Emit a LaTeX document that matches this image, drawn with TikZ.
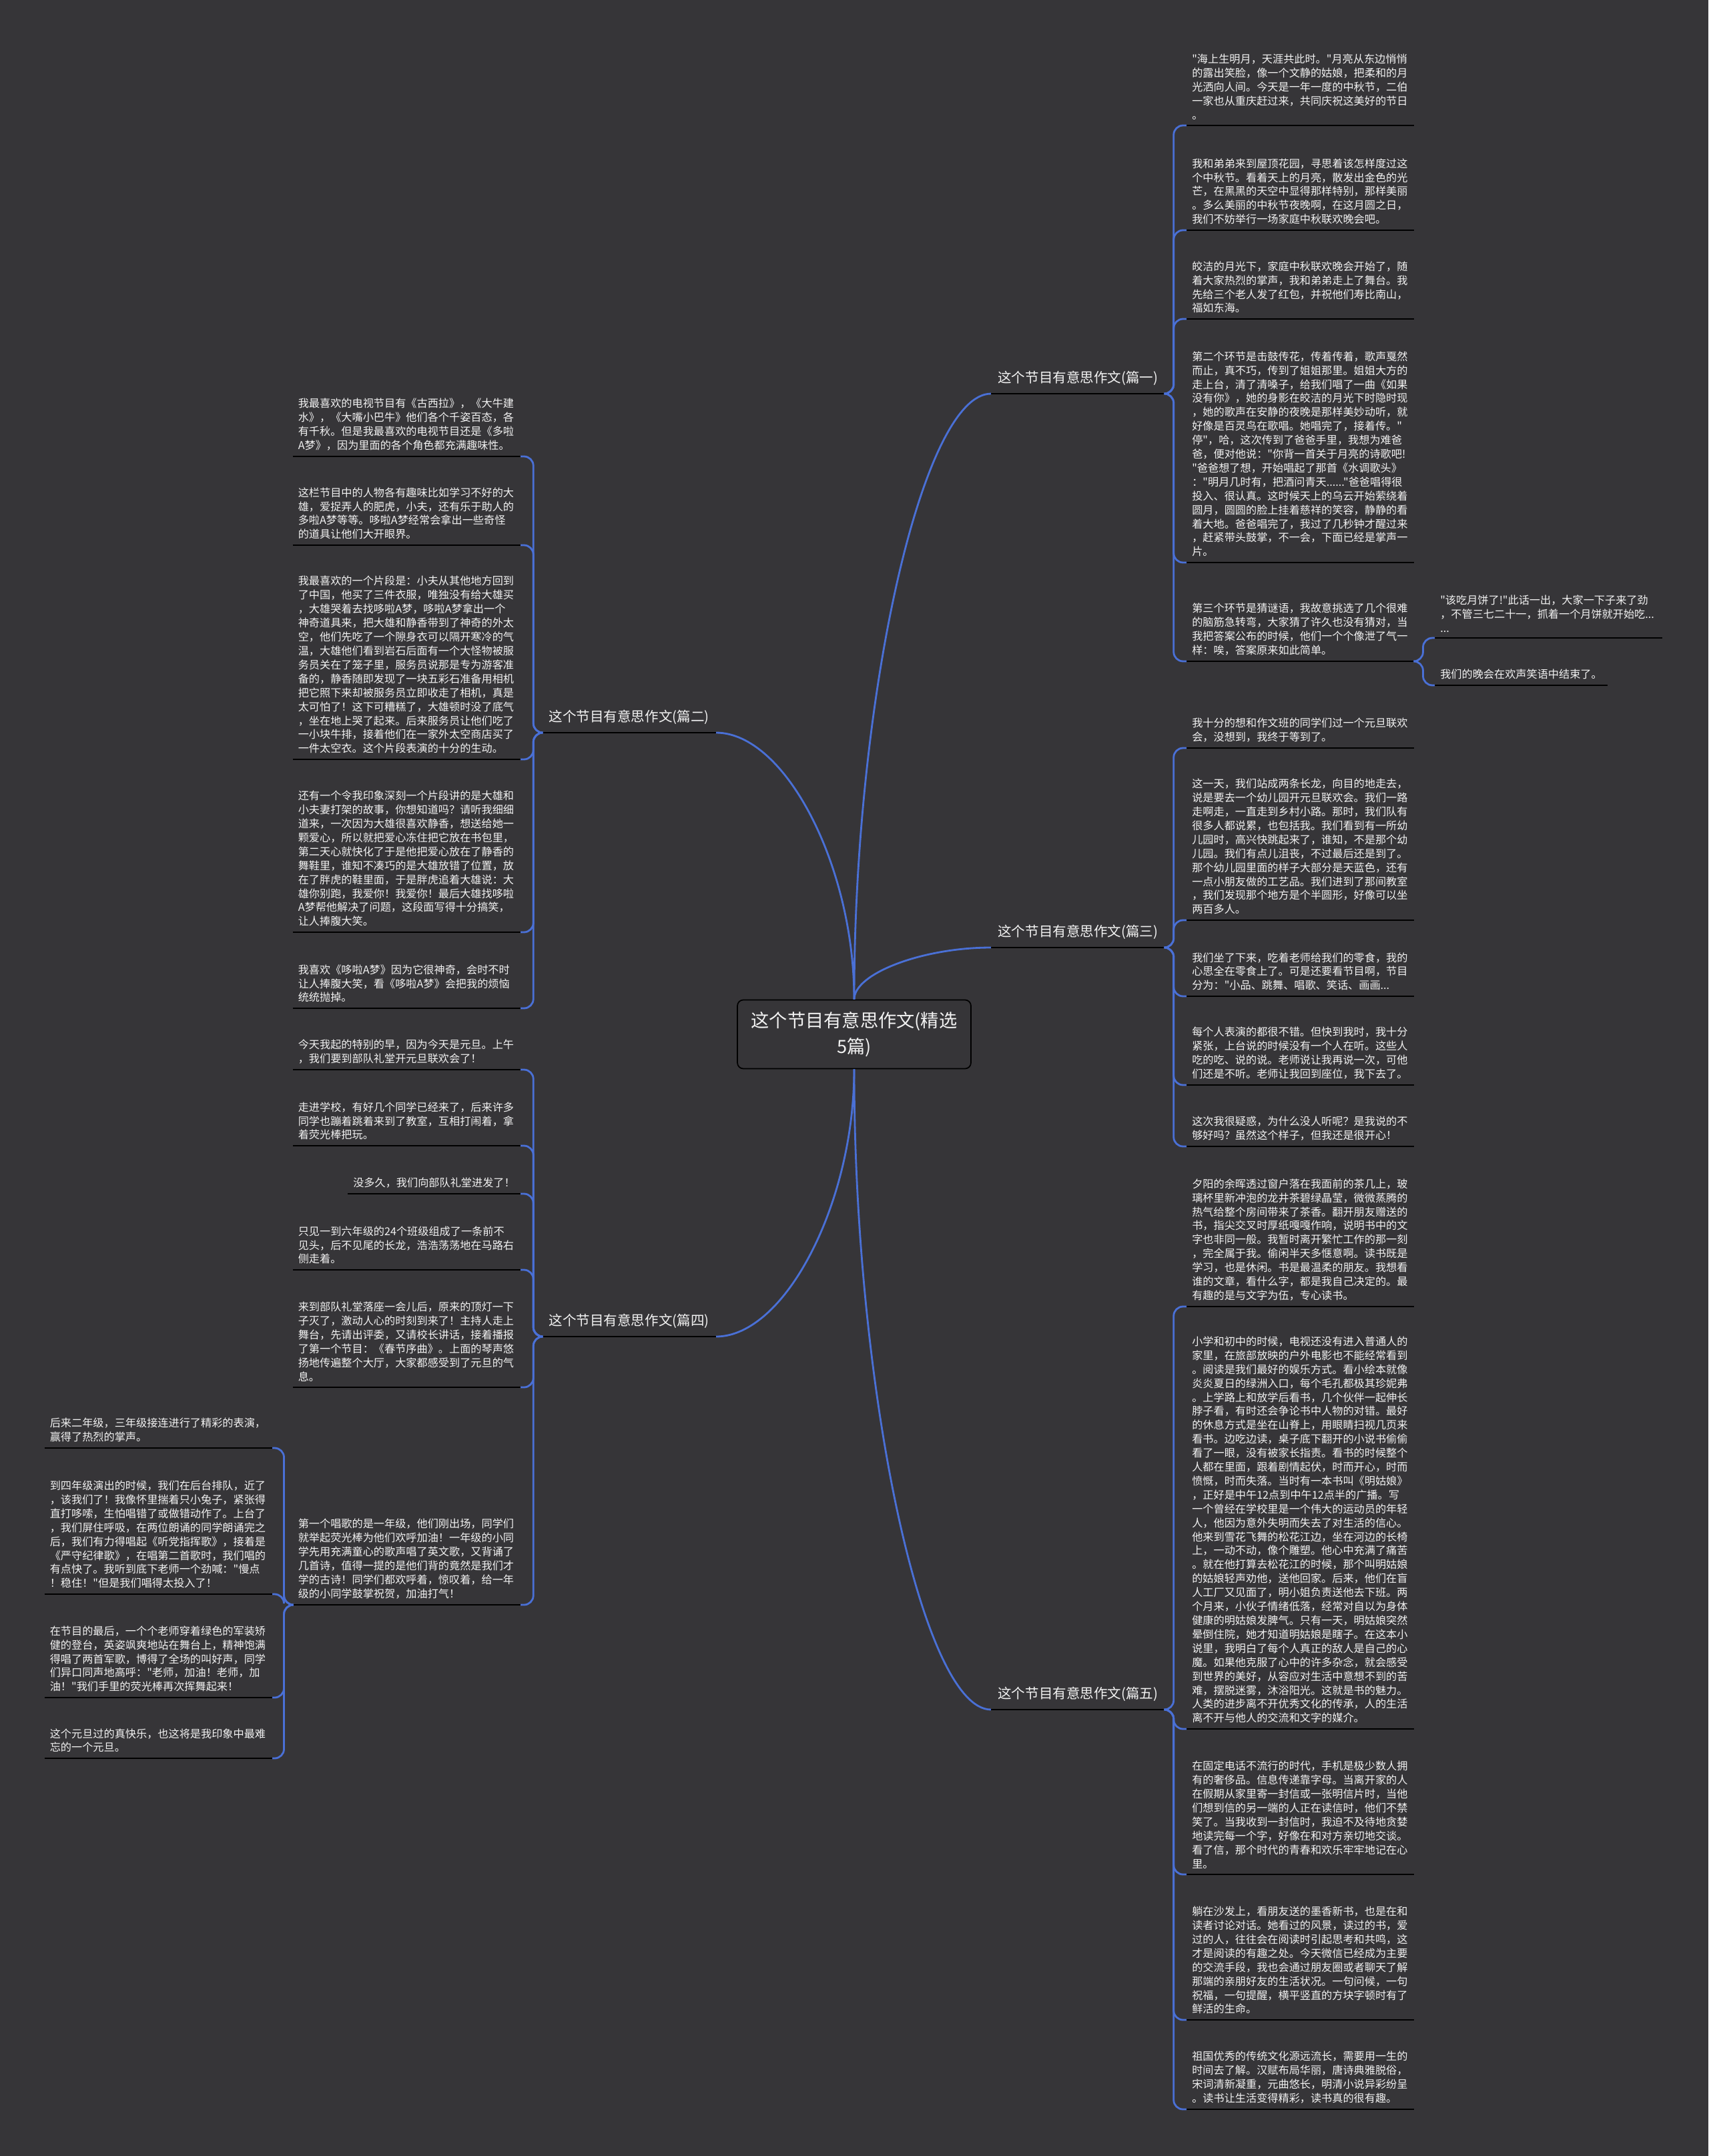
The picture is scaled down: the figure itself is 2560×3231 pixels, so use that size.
\documentclass[tikz,border=0pt]{standalone}
\usepackage{fontspec}
\usepackage{tikz}
\usetikzlibrary{calc}
\newfontfamily\cjk{Noto Sans CJK SC}
\definecolor{bgdark}{HTML}{363538}
\definecolor{linkblue}{HTML}{4A70D6}
\definecolor{paper}{HTML}{F2F2F2}
\tikzset{
  txt/.style={font=\cjk\fontsize{9.2pt}{11.9pt}\selectfont, text=paper, align=left, inner xsep=4.5pt, inner ysep=4.8pt},
  leaf/.style={txt, text width=6.5cm},
  branch/.style={font=\cjk\fontsize{11.7pt}{14pt}\selectfont, text=paper, inner xsep=5.7pt, inner ysep=7pt},
  topic/.style={draw=black, fill=bgdark, rounded corners=5pt, line width=1pt, text=paper, align=center,
    font=\cjk\fontsize{15.5pt}{22pt}\selectfont, minimum width=7cm, minimum height=2.06cm},
  uline/.style={draw=black, line width=1.3pt},
  link/.style={draw=linkblue, line width=1.6pt, rounded corners=8pt},
  elbow/.style={to path={.. controls ($(\tikztostart)!.5!(\tikztostart |- \tikztotarget)$) and ($(\tikztostart |- \tikztotarget)!.5!(\tikztotarget)$) .. (\tikztotarget)}}
}
\begin{document}
\begin{tikzpicture}[x=0.02cm, y=-0.02cm]
\fill[bgdark] (0,0) rectangle (2560,3231);
\useasboundingbox (0,0) rectangle (2560,3231);

% centre
\node[topic] (topic) at (1280,1550) {这个节目有意思作文(精选\\5篇)};

% branches
\node[branch, anchor=south west] (p1) at (1485,590) {这个节目有意思作文(篇一)};
\node[branch, anchor=south east] (p2) at (1073,1098) {这个节目有意思作文(篇二)};
\node[branch, anchor=south west] (p3) at (1485,1420) {这个节目有意思作文(篇三)};
\node[branch, anchor=south east] (p4) at (1073,2003) {这个节目有意思作文(篇四)};
\node[branch, anchor=south west] (p5) at (1485,2562) {这个节目有意思作文(篇五)};

% pian 1
\node[leaf, anchor=south west] (one1) at (1778,188) {"海上生明月，天涯共此时。"月亮从东边悄悄\\的露出笑脸，像一个文静的姑娘，把柔和的月\\光洒向人间。今天是一年一度的中秋节，二伯\\一家也从重庆赶过来，共同庆祝这美好的节日\\。};
\node[leaf, anchor=south west] (one2) at (1778,345) {我和弟弟来到屋顶花园，寻思着该怎样度过这\\个中秋节。看着天上的月亮，散发出金色的光\\芒，在黑黑的天空中显得那样特别，那样美丽\\。多么美丽的中秋节夜晚啊，在这月圆之日，\\我们不妨举行一场家庭中秋联欢晚会吧。};
\node[leaf, anchor=south west] (one3) at (1778,478) {皎洁的月光下，家庭中秋联欢晚会开始了，随\\着大家热烈的掌声，我和弟弟走上了舞台。我\\先给三个老人发了红包，并祝他们寿比南山，\\福如东海。};
\node[leaf, anchor=south west] (one4) at (1778,843) {第二个环节是击鼓传花，传着传着，歌声戛然\\而止，真不巧，传到了姐姐那里。姐姐大方的\\走上台，清了清嗓子，给我们唱了一曲《如果\\没有你》，她的身影在皎洁的月光下时隐时现\\，她的歌声在安静的夜晚是那样美妙动听，就\\好像是百灵鸟在歌唱。她唱完了，接着传。"\\停"，哈，这次传到了爸爸手里，我想为难爸\\爸，便对他说："你背一首关于月亮的诗歌吧!\\"爸爸想了想，开始唱起了那首《水调歌头》\\："明月几时有，把酒问青天......"爸爸唱得很\\投入、很认真。这时候天上的乌云开始萦绕着\\圆月，圆圆的脸上挂着慈祥的笑容，静静的看\\着大地。爸爸唱完了，我过了几秒钟才醒过来\\，赶紧带头鼓掌，不一会，下面已经是掌声一\\片。};
\node[leaf, anchor=south west] (one5) at (1778,991) {第三个环节是猜谜语，我故意挑选了几个很难\\的脑筋急转弯，大家猜了许久也没有猜对，当\\我把答案公布的时候，他们一个个像泄了气一\\样：唉，答案原来如此简单。};
\node[leaf, anchor=south west] (oneA) at (2150,956) {"该吃月饼了!"此话一出，大家一下子来了劲\\，不管三七二十一，抓着一个月饼就开始吃...\\...};
\node[txt, anchor=south west] (oneB) at (2150,1027) {我们的晚会在欢声笑语中结束了。};

% pian 2
\node[leaf, anchor=south east] (two1) at (780,684) {我最喜欢的电视节目有《古西拉》，《大牛建\\水》，《大嘴小巴牛》他们各个千姿百态，各\\有千秋。但是我最喜欢的电视节目还是《多啦\\A梦》，因为里面的各个角色都充满趣味性。};
\node[leaf, anchor=south east] (two2) at (780,817) {这栏节目中的人物各有趣味比如学习不好的大\\雄，爱捉弄人的肥虎，小夫，还有乐于助人的\\多啦A梦等等。哆啦A梦经常会拿出一些奇怪\\的道具让他们大开眼界。};
\node[leaf, anchor=south east] (two3) at (780,1138) {我最喜欢的一个片段是：小夫从其他地方回到\\了中国，他买了三件衣服，唯独没有给大雄买\\，大雄哭着去找哆啦A梦，哆啦A梦拿出一个\\神奇道具来，把大雄和静香带到了神奇的外太\\空，他们先吃了一个隙身衣可以隔开寒冷的气\\温，大雄他们看到岩石后面有一个大怪物被服\\务员关在了笼子里，服务员说那是专为游客准\\备的，静香随即发现了一块五彩石准备用相机\\把它照下来却被服务员立即收走了相机，真是\\太可怕了！这下可糟糕了，大雄顿时没了底气\\，坐在地上哭了起来。后来服务员让他们吃了\\一小块牛排，接着他们在一家外太空商店买了\\一件太空衣。这个片段表演的十分的生动。};
\node[leaf, anchor=south east] (two4) at (780,1397) {还有一个令我印象深刻一个片段讲的是大雄和\\小夫妻打架的故事，你想知道吗？请听我细细\\道来，一次因为大雄很喜欢静香，想送给她一\\颗爱心，所以就把爱心冻住把它放在书包里，\\第二天心就快化了于是他把爱心放在了静香的\\舞鞋里，谁知不凑巧的是大雄放错了位置，放\\在了胖虎的鞋里面，于是胖虎追着大雄说：大\\雄你别跑，我爱你！我爱你！最后大雄找哆啦\\A梦帮他解决了问题，这段面写得十分搞笑，\\让人捧腹大笑。};
\node[leaf, anchor=south east] (two5) at (780,1511) {我喜欢《哆啦A梦》因为它很神奇，会时不时\\让人捧腹大笑，看《哆啦A梦》会把我的烦恼\\统统抛掉。};

% pian 3
\node[leaf, anchor=south west] (three1) at (1778,1121) {我十分的想和作文班的同学们过一个元旦联欢\\会，没想到，我终于等到了。};
\node[leaf, anchor=south west] (three2) at (1778,1379) {这一天，我们站成两条长龙，向目的地走去，\\说是要去一个幼儿园开元旦联欢会。我们一路\\走啊走，一直走到乡村小路。那时，我们队有\\很多人都说累，也包括我。我们看到有一所幼\\儿园时，高兴快跳起来了，谁知，不是那个幼\\儿园。我们有点儿沮丧，不过最后还是到了。\\那个幼儿园里面的样子大部分是天蓝色，还有\\一点小朋友做的工艺品。我们进到了那间教室\\，我们发现那个地方是个半圆形，好像可以坐\\两百多人。};
\node[leaf, anchor=south west] (three3) at (1778,1493) {我们坐了下来，吃着老师给我们的零食，我的\\心思全在零食上了。可是还要看节目啊，节目\\分为："小品、跳舞、唱歌、笑话、画画...};
\node[leaf, anchor=south west] (three4) at (1778,1626) {每个人表演的都很不错。但快到我时，我十分\\紧张，上台说的时候没有一个人在听。这些人\\吃的吃、说的说。老师说让我再说一次，可他\\们还是不听。老师让我回到座位，我下去了。};
\node[leaf, anchor=south west] (three5) at (1778,1718) {这次我很疑惑，为什么没人听呢？是我说的不\\够好吗？虽然这个样子，但我还是很开心！};

% pian 4
\node[leaf, anchor=south east] (four1) at (780,1603) {今天我起的特别的早，因为今天是元旦。上午\\，我们要到部队礼堂开元旦联欢会了！};
\node[leaf, anchor=south east] (four2) at (780,1717) {走进学校，有好几个同学已经来了，后来许多\\同学也蹦着跳着来到了教室，互相打闹着，拿\\着荧光棒把玩。};
\node[txt, anchor=south east] (four3) at (780,1789) {没多久，我们向部队礼堂进发了！};
\node[leaf, anchor=south east] (four4) at (780,1903) {只见一到六年级的24个班级组成了一条前不\\见头，后不见尾的长龙，浩浩荡荡地在马路右\\侧走着。};
\node[leaf, anchor=south east] (four5) at (780,2079) {来到部队礼堂落座一会儿后，原来的顶灯一下\\子灭了，激动人心的时刻到来了！主持人走上\\舞台，先请出评委，又请校长讲话，接着播报\\了第一个节目：《春节序曲》。上面的琴声悠\\扬地传遍整个大厅，大家都感受到了元旦的气\\息。};
\node[leaf, anchor=south east] (four6) at (780,2405) {第一个唱歌的是一年级，他们刚出场，同学们\\就举起荧光棒为他们欢呼加油！一年级的小同\\学先用充满童心的歌声唱了英文歌，又背诵了\\几首诗，值得一提的是他们背的竟然是我们才\\学的古诗！同学们都欢呼着，惊叹着，给一年\\级的小同学鼓掌祝贺，加油打气！};
\node[leaf, anchor=south east] (fourA) at (408,2170) {后来二年级，三年级接连进行了精彩的表演，\\赢得了热烈的掌声。};
\node[leaf, anchor=south east] (fourB) at (408,2389) {到四年级演出的时候，我们在后台排队，近了\\，该我们了！我像怀里揣着只小兔子，紧张得\\直打哆嗦，生怕唱错了或做错动作了。上台了\\，我们屏住呼吸，在两位朗诵的同学朗诵完之\\后，我们有力得唱起《听党指挥歌》，接着是\\《严守纪律歌》，在唱第二首歌时，我们唱的\\有点快了。我听到底下老师一个劲喊："慢点\\！稳住！"但是我们唱得太投入了！};
\node[leaf, anchor=south east] (fourC) at (408,2544) {在节目的最后，一个个老师穿着绿色的军装矫\\健的登台，英姿飒爽地站在舞台上，精神饱满\\得唱了两首军歌，博得了全场的叫好声，同学\\们异口同声地高呼："老师，加油！老师，加\\油！"我们手里的荧光棒再次挥舞起来！};
\node[leaf, anchor=south east] (fourD) at (408,2635) {这个元旦过的真快乐，也这将是我印象中最难\\忘的一个元旦。};

% pian 5
\node[leaf, anchor=south west] (five1) at (1778,1958) {夕阳的余晖透过窗户落在我面前的茶几上，玻\\璃杯里新冲泡的龙井茶碧绿晶莹，微微蒸腾的\\热气给整个房间带来了茶香。翻开朋友赠送的\\书，指尖交叉时厚纸嘎嘎作响，说明书中的文\\字也非同一般。我暂时离开繁忙工作的那一刻\\，完全属于我。偷闲半天多惬意啊。读书既是\\学习，也是休闲。书是最温柔的朋友。我想看\\谁的文章，看什么字，都是我自己决定的。最\\有趣的是与文字为伍，专心读书。};
\node[leaf, anchor=south west] (five2) at (1778,2591) {小学和初中的时候，电视还没有进入普通人的\\家里，在旅部放映的户外电影也不能经常看到\\。阅读是我们最好的娱乐方式。看小绘本就像\\炎炎夏日的绿洲入口，每个毛孔都极其珍妮弗\\。上学路上和放学后看书，几个伙伴一起伸长\\脖子看，有时还会争论书中人物的对错。最好\\的休息方式是坐在山脊上，用眼睛扫视几页来\\看书。边吃边读，桌子底下翻开的小说书偷偷\\看了一眼，没有被家长指责。看书的时候整个\\人都在里面，跟着剧情起伏，时而开心，时而\\愤慨，时而失落。当时有一本书叫《明姑娘》\\，正好是中午12点到中午12点半的广播。写\\一个曾经在学校里是一个伟大的运动员的年轻\\人，他因为意外失明而失去了对生活的信心。\\他来到雪花飞舞的松花江边，坐在河边的长椅\\上，一动不动，像个雕塑。他心中充满了痛苦\\。就在他打算去松花江的时候，那个叫明姑娘\\的姑娘轻声劝他，送他回家。后来，他们在盲\\人工厂又见面了，明小姐负责送他去下班。两\\个月来，小伙子情绪低落，经常对自以为身体\\健康的明姑娘发脾气。只有一天，明姑娘突然\\晕倒住院，她才知道明姑娘是瞎子。在这本小\\说里，我明白了每个人真正的敌人是自己的心\\魔。如果他克服了心中的许多杂念，就会感受\\到世界的美好，从容应对生活中意想不到的苦\\难，摆脱迷雾，沐浴阳光。这就是书的魅力。\\人类的进步离不开优秀文化的传承，人的生活\\离不开与他人的交流和文字的媒介。};
\node[leaf, anchor=south west] (five3) at (1778,2809) {在固定电话不流行的时代，手机是极少数人拥\\有的奢侈品。信息传递靠字母。当离开家的人\\在假期从家里寄一封信或一张明信片时，当他\\们想到信的另一端的人正在读信时，他们不禁\\笑了。当我收到一封信时，我迫不及待地贪婪\\地读完每一个字，好像在和对方亲切地交谈。\\看了信，那个时代的青春和欢乐牢牢地记在心\\里。};
\node[leaf, anchor=south west] (five4) at (1778,3027) {躺在沙发上，看朋友送的墨香新书，也是在和\\读者讨论对话。她看过的风景，读过的书，爱\\过的人，往往会在阅读时引起思考和共鸣，这\\才是阅读的有趣之处。今天微信已经成为主要\\的交流手段，我也会通过朋友圈或者聊天了解\\那端的亲朋好友的生活状况。一句问候，一句\\祝福，一句提醒，横平竖直的方块字顿时有了\\鲜活的生命。};
\node[leaf, anchor=south west] (five5) at (1778,3161) {祖国优秀的传统文化源远流长，需要用一生的\\时间去了解。汉赋布局华丽，唐诗典雅脱俗，\\宋词清新凝重，元曲悠长，明清小说异彩纷呈\\。读书让生活变得精彩，读书真的很有趣。};

% underlines
\foreach \n in {p1,p2,p3,p4,p5,one1,one2,one3,one4,one5,oneA,oneB,two1,two2,two3,two4,two5,
  three1,three2,three3,three4,three5,four1,four2,four3,four4,four5,four6,fourA,fourB,fourC,fourD,
  five1,five2,five3,five4,five5}
  \draw[uline] (\n.south west) -- (\n.south east);

% centre to branches
\draw[link] (topic.north) to[elbow] (p1.south west);
\draw[link] (topic.north) to[elbow] (p2.south east);
\draw[link] (topic.north) to[elbow] (p3.south west);
\draw[link] (topic.south) to[elbow] (p4.south east);
\draw[link] (topic.south) to[elbow] (p5.south west);

% branches to leaves
\foreach \c in {one1,one2,one3,one4,one5}
  \draw[link] (p1.south east) -- ++(13,0) |- (\c.south west);
\foreach \c in {oneA,oneB}
  \draw[link] (one5.south east) -- ++(13,0) |- (\c.south west);
\foreach \c in {two1,two2,two3,two4,two5}
  \draw[link] (p2.south west) -- ++(-13,0) |- (\c.south east);
\foreach \c in {three1,three2,three3,three4,three5}
  \draw[link] (p3.south east) -- ++(13,0) |- (\c.south west);
\foreach \c in {four1,four2,four3,four4,four5,four6}
  \draw[link] (p4.south west) -- ++(-13,0) |- (\c.south east);
\foreach \c in {fourA,fourB,fourC,fourD}
  \draw[link] (four6.south west) -- ++(-13,0) |- (\c.south east);
\foreach \c in {five1,five2,five3,five4,five5}
  \draw[link] (p5.south east) -- ++(13,0) |- (\c.south west);

\end{tikzpicture}
\end{document}
